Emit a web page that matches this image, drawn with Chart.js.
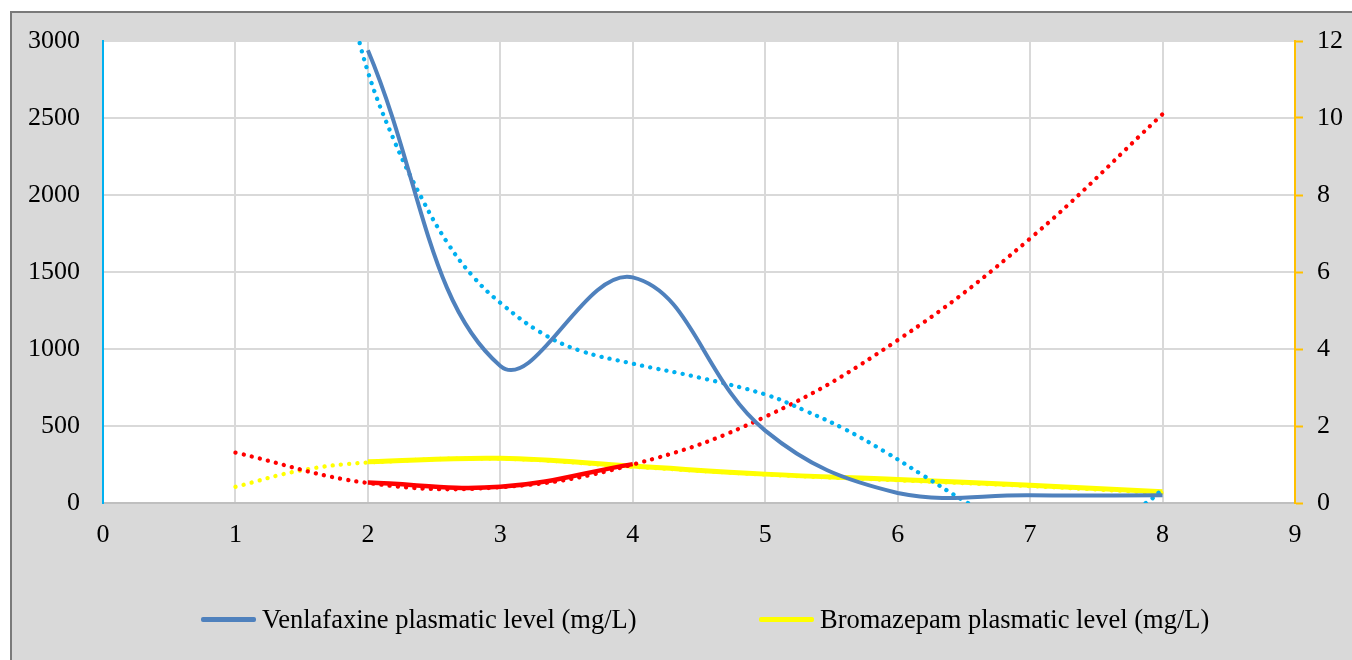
<!DOCTYPE html>
<html>
<head>
<meta charset="utf-8">
<script src="https://cdn.jsdelivr.net/npm/chart.js@4"></script>
<style>
  html, body { margin: 0; padding: 0; background: #ffffff; width: 1352px; height: 660px; overflow: hidden; }
  #frame { position: absolute; left: 10px; top: 11px; width: 1342px; height: 649px; box-sizing: border-box;
           border-left: 2px solid #7a7a7a; border-top: 2px solid #7a7a7a; background: #d9d9d9; }
  #c { position: absolute; left: 0; top: 0; }
  .lg-item { position: absolute; top: 603px; height: 32px; display: flex; align-items: center; white-space: nowrap;
             font-family: 'Liberation Serif', 'Times New Roman', serif; font-size: 26.5px; color: #000; }
  .lg-swatch { display: inline-block; width: 55px; height: 5px; border-radius: 2px; margin-right: 6px; }
</style>
</head>
<body>
<div id="frame"><canvas id="c" width="1340" height="647"></canvas></div>
<div id="legend"></div>
<script>
// ---------- data ----------
const xAxisTicks = [0, 1, 2, 3, 4, 5, 6, 7, 8, 9];
const leftAxisTicks = [0, 500, 1000, 1500, 2000, 2500, 3000];
const rightAxisTicks = [0, 2, 4, 6, 8, 10, 12];

const venlafaxineLabel = 'Venlafaxine plasmatic level (mg/L)';
const venlafaxineX = [2, 3, 4, 5, 6, 7, 8];
const venlafaxineY = [2940, 890, 1465, 470, 65, 50, 50];

const venlafaxineTrendX = [1.85, 2, 2.2, 2.4, 2.6, 2.8, 3, 3.3, 3.6, 4, 4.5, 5, 5.3, 5.6, 5.9, 6.2, 6.5, 6.75, 7, 7.25, 7.5, 7.75, 7.9, 8];
const venlafaxineTrendY = [3300, 2800, 2350, 1990, 1690, 1465, 1300, 1110, 990, 905, 815, 705, 600, 480, 335, 175, 15, -100, -175, -200, -160, -60, 15, 90];

const bromazepamLabel = 'Bromazepam plasmatic level (mg/L)';
const bromazepamX = [2, 3, 4, 5, 6, 7, 8];
const bromazepamY = [1.07, 1.16, 0.96, 0.75, 0.61, 0.46, 0.29];

const bromazepamTrendX = [1, 1.5, 2, 3, 4, 5, 6, 7, 8];
const bromazepamTrendY = [0.42, 0.85, 1.05, 1.15, 0.94, 0.74, 0.59, 0.44, 0.26];

const redSeriesX = [2, 3, 4];
const redSeriesY = [0.53, 0.42, 1.01];

const redTrendX = [1, 2, 3, 4, 5, 6, 7, 8];
const redTrendY = [1.31, 0.52, 0.41, 1.0, 2.24, 4.23, 6.87, 10.1];

// ---------- chart ----------
const serif = "'Liberation Serif', 'Times New Roman', serif";
Chart.defaults.font.family = serif;
Chart.defaults.color = '#000000';

const pts = (xs, ys) => xs.map((x, i) => ({ x: x, y: ys[i] }));
const dotted = { borderDash: [0.1, 8.2], borderCapStyle: 'round', borderWidth: 4.3 };

const plotBg = {
  id: 'plotBg',
  beforeDraw(chart) {
    const a = chart.chartArea, c = chart.ctx;
    c.save(); c.fillStyle = '#ffffff';
    c.fillRect(a.left, a.top, a.right - a.left, a.bottom - a.top);
    c.restore();
  }
};

const datasets = [
  { label: venlafaxineLabel, data: pts(venlafaxineX, venlafaxineY), borderColor: '#4f81bd', borderWidth: 4,
    tension: 0.4, yAxisID: 'y', order: 1, inLegend: true },
  Object.assign({ label: 'Venlafaxine trend', data: pts(venlafaxineTrendX, venlafaxineTrendY), borderColor: '#00b0f0',
    tension: 0.4, yAxisID: 'y', order: 2 }, dotted),
  { label: 'Red series', data: pts(redSeriesX, redSeriesY), borderColor: '#ff0000', borderWidth: 4.5,
    tension: 0.4, yAxisID: 'y1', order: 3 },
  Object.assign({ label: 'Red trend', data: pts(redTrendX, redTrendY), borderColor: '#ff0000',
    tension: 0.4, yAxisID: 'y1', order: 4 }, dotted),
  { label: bromazepamLabel, data: pts(bromazepamX, bromazepamY), borderColor: '#ffff00', borderWidth: 5,
    tension: 0.4, yAxisID: 'y1', order: 5, inLegend: true },
  Object.assign({ label: 'Bromazepam trend', data: pts(bromazepamTrendX, bromazepamTrendY), borderColor: '#ffff00',
    tension: 0.4, yAxisID: 'y1', order: 6 }, dotted)
];
datasets.forEach(d => { d.clip = 0; d.pointRadius = 0; d.fill = false; });

const tickFont = { family: serif, size: 26 };

const chart = new Chart(document.getElementById('c'), {
  type: 'line',
  data: { datasets: datasets },
  options: {
    responsive: false,
    animation: false,
    devicePixelRatio: 1,
    layout: { padding: { top: 28, left: 0, right: 0, bottom: 0 } },
    plugins: { legend: { display: false }, tooltip: { enabled: false } },
    scales: {
      x: {
        type: 'linear', min: 0, max: 9,
        afterBuildTicks: s => { s.ticks = xAxisTicks.map(v => ({ value: v })); },
        ticks: { padding: 17, font: tickFont, maxRotation: 0, autoSkip: false, callback: v => String(v) },
        grid: { color: '#d9d9d9', lineWidth: 2, drawTicks: false },
        border: { color: '#bfbfbf', width: 2 },
        afterFit: s => { s.height = 157; s.paddingLeft = 0; s.paddingRight = 0; }
      },
      y: {
        position: 'left', min: 0, max: 3000,
        afterBuildTicks: s => { s.ticks = leftAxisTicks.map(v => ({ value: v })); },
        ticks: { padding: 23, font: tickFont, callback: v => String(v) },
        grid: { color: '#d9d9d9', lineWidth: 2, drawTicks: false },
        border: { color: '#00b0f0', width: 2 },
        afterFit: s => { s.width = 91; s.paddingTop = 0; s.paddingBottom = 0; }
      },
      y1: {
        position: 'right', min: 0, max: 12,
        afterBuildTicks: s => { s.ticks = rightAxisTicks.map(v => ({ value: v })); },
        ticks: { padding: 14, font: tickFont, callback: v => String(v) },
        grid: { drawOnChartArea: false, drawTicks: true, tickLength: 8, color: '#ffc000', tickColor: '#ffc000', tickWidth: 2 },
        border: { color: '#ffc000', width: 2 },
        afterFit: s => { s.width = 57; s.paddingTop = 0; s.paddingBottom = 0; }
      }
    }
  },
  plugins: [plotBg]
});

// ---------- legend (only the two labelled series) ----------
const legendLefts = [201, 759];
const legendEl = document.getElementById('legend');
chart.data.datasets.filter(d => d.inLegend).forEach((d, i) => {
  const item = document.createElement('div');
  item.className = 'lg-item';
  item.style.left = legendLefts[i] + 'px';
  const sw = document.createElement('span');
  sw.className = 'lg-swatch';
  sw.style.background = d.borderColor;
  const tx = document.createElement('span');
  tx.textContent = d.label;
  item.appendChild(sw); item.appendChild(tx);
  legendEl.appendChild(item);
});
</script>
</body>
</html>
